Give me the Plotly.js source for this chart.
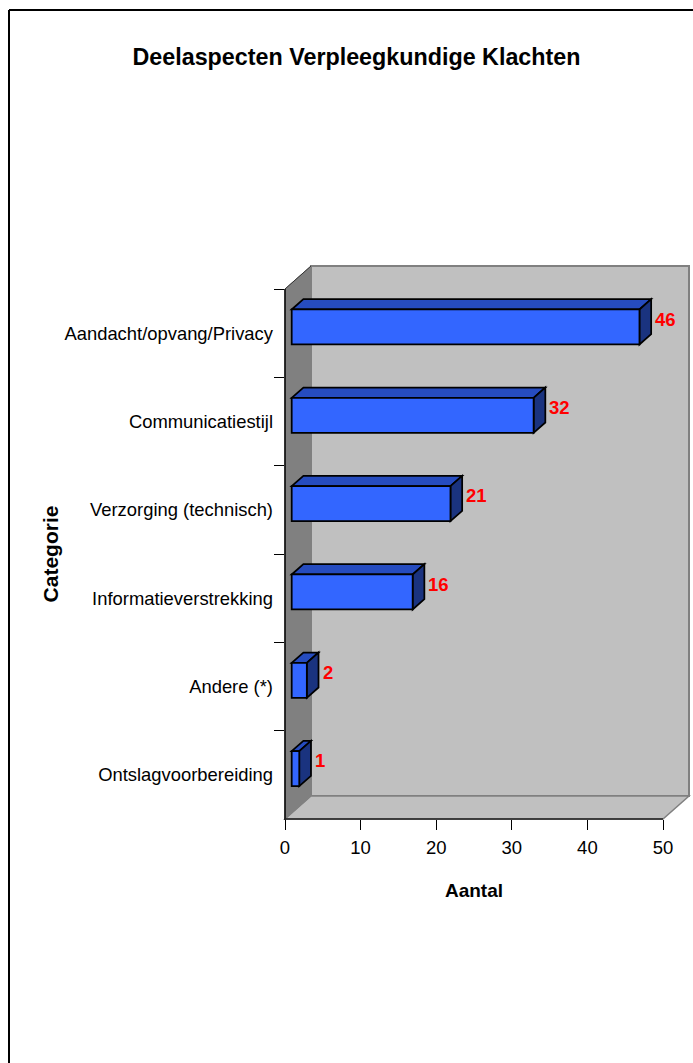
<!DOCTYPE html>
<html>
<head>
<meta charset="utf-8">
<script src="https://cdn.plot.ly/plotly-3.0.1.min.js"></script>
<style>html,body{margin:0;padding:0;background:#fff}#chart{width:693px;height:1063px}</style>
</head>
<body>
<div id="chart"></div>
<script>
// Complaint sub-aspects, largest at the top
const categories = ['Aandacht/opvang/Privacy', 'Communicatiestijl', 'Verzorging (technisch)',
                    'Informatieverstrekking', 'Andere (*)', 'Ontslagvoorbereiding'];
const counts = [46, 32, 21, 16, 2, 1];
const countTicks = [0, 10, 20, 30, 40, 50];

// Front plane of the chart box in window pixels
const L = 285, R = 663, T = 289, B = 819, W = 693, H = 1063;
const wallDx = 26, wallDy = 23;
const pxPerCount = (R - L) / 50, pxPerCat = (B - T) / 6;
const toX = v => v / pxPerCount, toY = v => v / pxPerCat;

// Pseudo-3D bar proportions, in axis units
const barShift = toX(6.7), barTop = -0.268, barThick = 0.396;
const depthX = toX(11.7), depthY = toY(10.3);

const FONT = '"Liberation Sans", Arial, sans-serif';
const WALL_EDGE = '#808080';

const px = v => (v - L) / (R - L), py = v => (B - v) / (B - T);
const polyPaper = pts => 'M' + pts.map(p => px(p[0]) + ' ' + py(p[1])).join(' L') + ' Z';
const paperShape = (pts, fill, color, width) => ({
  type: 'path', xref: 'paper', yref: 'paper', layer: 'below',
  path: polyPaper(pts), fillcolor: fill, line: {color: color, width: width}
});
const paperLine = (x0, y0, x1, y1, color, width) => ({
  type: 'line', xref: 'paper', yref: 'paper', layer: 'above',
  x0: px(x0), y0: py(y0), x1: px(x1), y1: py(y1), line: {color: color, width: width}
});

const shapes = [
  // Back wall, floor and side wall of the chart box
  paperShape([[L + wallDx, T - wallDy], [R + wallDx, T - wallDy], [R + wallDx, B - wallDy], [L + wallDx, B - wallDy]], '#C0C0C0', WALL_EDGE, 2),
  paperShape([[L, B], [L + wallDx, B - wallDy], [R + wallDx, B - wallDy], [R, B]], '#C0C0C0', WALL_EDGE, 1.5),
  paperShape([[L, T], [L + wallDx, T - wallDy], [L + wallDx, B - wallDy], [L, B]], '#808080', WALL_EDGE, 1),
  // Axis lines and the outer chart frame
  paperLine(L, T, L, B + 1, '#000', 1.5),
  paperLine(L, B, R, B, '#202020', 1.5),
  paperLine(L, T, L + wallDx, T - wallDy, '#333', 1),
  paperLine(9, 10, W, 10, '#000', 2),
  paperLine(9, 10, 9, H, '#000', 2)
];

// Top and end faces of each bar, derived from its count
counts.forEach((v, i) => {
  const x0 = barShift, x1 = barShift + v, yt = i + barTop, yb = yt + barThick;
  const face = (d, fill) => shapes.push({
    type: 'path', xref: 'x', yref: 'y', layer: 'below', path: d,
    fillcolor: fill, line: {color: '#000', width: 1.75}
  });
  face(`M${x0} ${yt} L${x1} ${yt} L${x1 + depthX} ${yt - depthY} L${x0 + depthX} ${yt - depthY} Z`, '#264CBF');
  face(`M${x1} ${yt} L${x1 + depthX} ${yt - depthY} L${x1 + depthX} ${yb - depthY} L${x1} ${yb} Z`, '#1A337F');
});

// Value labels beside the end of each bar
const annotations = counts.map((v, i) => ({
  xref: 'x', yref: 'y', x: barShift + v + depthX, y: i - toY(14),
  text: String(v), showarrow: false, xanchor: 'left', yanchor: 'middle', xshift: 2,
  font: {family: FONT, size: 18.5, color: '#FF0000', weight: 'bold'}
}));

const trace = {
  type: 'bar', orientation: 'h', y: categories, x: counts,
  base: counts.map(() => barShift), offset: barTop, width: barThick,
  marker: {color: '#3366FF', line: {color: '#000', width: 1.75}},
  hoverinfo: 'x+y', cliponaxis: false
};

const layout = {
  width: W, height: H, autosize: false, showlegend: false,
  paper_bgcolor: '#fff', plot_bgcolor: 'rgba(0,0,0,0)',
  margin: {l: L, r: W - R, t: T, b: H - B, pad: 0},
  title: {text: 'Deelaspecten Verpleegkundige Klachten', xref: 'paper', yref: 'container',
          x: px(356.5), xanchor: 'center', y: 1 - 57 / H, yanchor: 'middle',
          font: {family: FONT, size: 23.3, color: '#000', weight: 'bold'}},
  xaxis: {
    range: [0, 50], tickmode: 'array', tickvals: countTicks, ticktext: countTicks.map(String),
    ticks: 'outside', ticklen: 10, tickcolor: '#000', tickwidth: 1, showgrid: false, zeroline: false, showline: false,
    ticklabelstandoff: 2,
    tickfont: {family: FONT, size: 18.5, color: '#000'}, fixedrange: true,
    title: {text: 'Aantal', standoff: 26, font: {family: FONT, size: 19, color: '#000', weight: 'bold'}}
  },
  yaxis: {
    type: 'category', categoryorder: 'array', categoryarray: categories,
    range: [5.5, -0.5], tickson: 'boundaries', ticklabelstandoff: 11,
    ticks: 'outside', ticklen: 10, tickcolor: '#000', tickwidth: 1, showgrid: false, zeroline: false, showline: false,
    tickfont: {family: FONT, size: 18.4, color: '#000'}, fixedrange: true,
    title: {text: 'Categorie', standoff: 0, font: {family: FONT, size: 21, color: '#000', weight: 'bold'}}
  },
  shapes: shapes, annotations: annotations
};

Plotly.newPlot('chart', [trace], layout, {displayModeBar: false, responsive: false});
</script>
</body>
</html>
